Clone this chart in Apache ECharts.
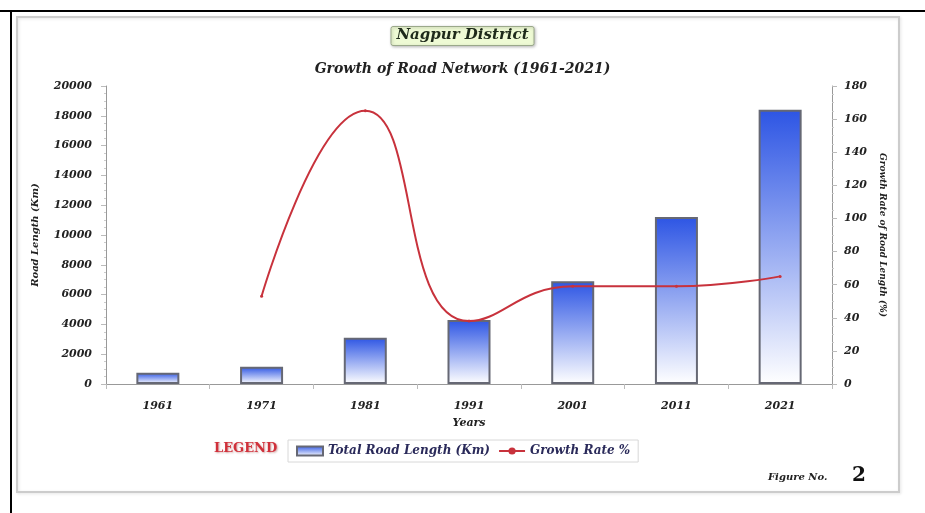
<!DOCTYPE html>
<html>
<head>
<meta charset="utf-8">
<script src="https://cdn.jsdelivr.net/npm/echarts@6/dist/echarts.min.js"></script>
<style>
  html, body { margin: 0; padding: 0; background: #ffffff; }
  #chart { width: 925px; height: 513px; }
</style>
</head>
<body>
<div id="chart"></div>
<script>
// Road network of Nagpur District, census years 1961-2021
const years = ['1961', '1971', '1981', '1991', '2001', '2011', '2021'];
const roadLength = [750, 1150, 3100, 4300, 6900, 11200, 18400];
const growthRate = [null, 53, 165, 38, 59, 59, 65];
const leftTicks = [0, 20000, 2000];
const rightTicks = [0, 180, 20];

const serif = '"DejaVu Serif", "Liberation Serif", serif';
const labelStyle = { fontFamily: serif, fontStyle: 'italic', fontWeight: 'bold', fontSize: 11, color: '#222' };

const chart = echarts.init(document.getElementById('chart'));

chart.setOption({
  animation: false,
  backgroundColor: '#ffffff',
  graphic: [
    // outer frame lines
    { type: 'line', shape: { x1: 0, y1: 11, x2: 925, y2: 11 }, style: { stroke: '#000', lineWidth: 2 } },
    { type: 'line', shape: { x1: 11, y1: 11, x2: 11, y2: 513 }, style: { stroke: '#000', lineWidth: 2 } },
    // inner panel
    { type: 'rect', shape: { x: 17, y: 17, width: 882, height: 475 },
      style: { fill: 'none', stroke: '#cccccc', lineWidth: 2,
               shadowColor: 'rgba(0,0,0,0.12)', shadowBlur: 3, shadowOffsetX: 1, shadowOffsetY: 1 }, z: -1 },
    // legend caption
    { type: 'text', left: 214, top: 442,
      style: { text: 'LEGEND', fill: '#d0303a', font: 'bold 13px ' + serif,
               textShadowColor: 'rgba(120,0,0,0.35)', textShadowBlur: 2, textShadowOffsetX: 1, textShadowOffsetY: 1 } },
    // figure number
    { type: 'text', left: 768, top: 472,
      style: { text: 'Figure No.', fill: '#222', font: 'italic bold 10px ' + serif } },
    { type: 'text', left: 852, top: 466,
      style: { text: '2', fill: '#111', font: 'bold 20px ' + serif } }
  ],
  title: [
    {
      text: 'Nagpur District',
      left: 'center', top: 26,
      padding: [2, 6, 3, 6],
      backgroundColor: '#eefad4',
      borderColor: '#9aa88a',
      borderWidth: 1,
      borderRadius: 2,
      shadowColor: 'rgba(0,0,0,0.25)', shadowBlur: 3, shadowOffsetX: 1, shadowOffsetY: 1,
      textStyle: { fontFamily: serif, fontStyle: 'italic', fontWeight: 'bold', fontSize: 15, color: '#1e2a1a' }
    },
    {
      text: 'Growth of Road Network (1961-2021)',
      left: 'center', top: 57,
      textStyle: { fontFamily: serif, fontStyle: 'italic', fontWeight: 'bold', fontSize: 14, color: '#222' }
    }
  ],
  legend: {
    left: 288, top: 440,
    padding: [5, 8, 5, 8],
    borderColor: '#d8d8d8', borderWidth: 1,
    itemGap: 8,
    itemWidth: 26, itemHeight: 9,
    textStyle: { fontFamily: serif, fontStyle: 'italic', fontWeight: 'bold', fontSize: 12, color: '#2a2a5a' },
    data: [
      { name: 'Total Road Length (Km)', icon: 'rect' },
      { name: 'Growth Rate %' }
    ]
  },
  grid: { left: 106, right: 93, top: 86, bottom: 129 },
  xAxis: {
    type: 'category',
    data: years,
    name: 'Years',
    nameLocation: 'middle',
    nameGap: 34,
    nameTextStyle: labelStyle,
    axisLine: { lineStyle: { color: '#999' } },
    axisTick: { show: true, alignWithLabel: false, lineStyle: { color: '#bbb' } },
    axisLabel: Object.assign({ margin: 17 }, labelStyle)
  },
  yAxis: [
    {
      type: 'value',
      min: leftTicks[0], max: leftTicks[1], interval: leftTicks[2],
      name: 'Road Length (Km)',
      nameLocation: 'middle',
      nameGap: 66,
      nameTextStyle: Object.assign({}, labelStyle, { fontSize: 10 }),
      axisLine: { show: true, lineStyle: { color: '#999' } },
      axisTick: { show: true, lineStyle: { color: '#bbb' } },
      minorTick: { show: true, splitNumber: 4, length: 2, lineStyle: { color: '#ccc' } },
      splitLine: { show: false },
      axisLabel: Object.assign({ margin: 14, formatter: v => String(v) }, labelStyle)
    },
    {
      type: 'value',
      min: rightTicks[0], max: rightTicks[1], interval: rightTicks[2],
      name: 'Growth Rate of Road Length (%)',
      nameLocation: 'middle',
      nameGap: 46,
      nameRotate: -90,
      nameTextStyle: Object.assign({}, labelStyle, { fontSize: 9 }),
      axisLine: { show: true, lineStyle: { color: '#999' } },
      axisTick: { show: true, lineStyle: { color: '#bbb' } },
      minorTick: { show: true, splitNumber: 4, length: 2, lineStyle: { color: '#ccc' } },
      splitLine: { show: false },
      axisLabel: Object.assign({ margin: 12 }, labelStyle)
    }
  ],
  series: [
    {
      name: 'Total Road Length (Km)',
      type: 'bar',
      yAxisIndex: 0,
      barWidth: 43,
      data: roadLength,
      itemStyle: {
        color: new echarts.graphic.LinearGradient(0, 0, 0, 1, [
          { offset: 0, color: '#2d55e4' },
          { offset: 1, color: '#ffffff' }
        ]),
        borderColor: '#666874',
        borderWidth: 2
      }
    },
    {
      name: 'Growth Rate %',
      type: 'line',
      yAxisIndex: 1,
      smooth: 0.5,
      data: growthRate,
      symbol: 'circle',
      symbolSize: 3,
      lineStyle: { color: '#c8323c', width: 2 },
      itemStyle: { color: '#c8323c' }
    }
  ]
});
</script>
</body>
</html>
